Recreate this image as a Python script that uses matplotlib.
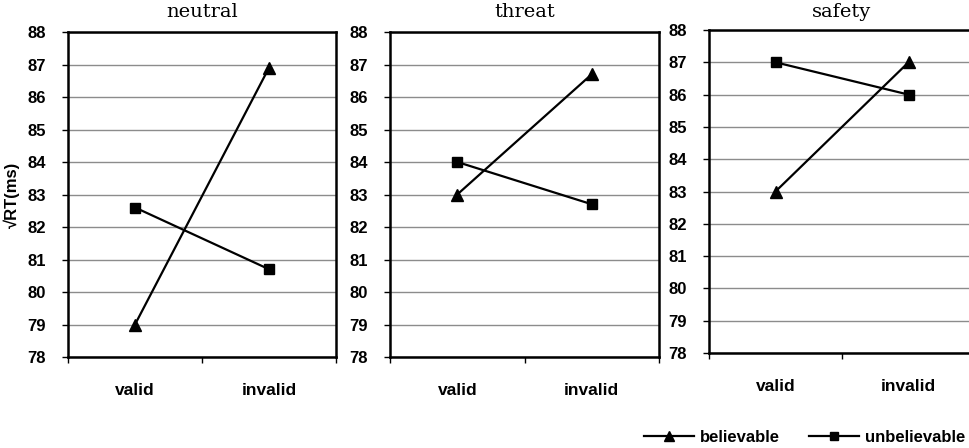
import matplotlib
matplotlib.use("Agg")
import matplotlib.pyplot as plt
from matplotlib.lines import Line2D

conditions = ["neutral", "threat", "safety"]
categories = ["valid", "invalid"]
believable = {"neutral": [79.0, 86.9], "threat": [83.0, 86.7], "safety": [83.0, 87.0]}
unbelievable = {"neutral": [82.6, 80.7], "threat": [84.0, 82.7], "safety": [87.0, 86.0]}
yticks = list(range(78, 89))

W, H = 969, 448
fig = plt.figure(figsize=(W / 100, H / 100), dpi=100)

# axes boxes in pixels: left, top, right, bottom
boxes = [(68, 32, 336, 357), (390, 32, 659, 357), (709, 30, 975, 353)]

sans = ["Liberation Sans", "DejaVu Sans"]
serif = ["DejaVu Serif"]
FS = 12

for cond, (l, t, r, b) in zip(conditions, boxes):
    ax = fig.add_axes([l / W, 1 - b / H, (r - l) / W, (b - t) / H])
    xs = [0.5, 1.5]
    ax.plot(xs, believable[cond], color="black", lw=1.6, marker="^", ms=9,
            markerfacecolor="black", zorder=3, clip_on=False)
    ax.plot(xs, unbelievable[cond], color="black", lw=1.6, marker="s", ms=6.5,
            markerfacecolor="black", zorder=3, clip_on=False)
    ax.set_xlim(0, 2)
    ax.set_ylim(78, 88)
    ax.set_yticks(yticks)
    ax.set_yticklabels([str(v) for v in yticks], fontfamily=sans,
                       fontweight="bold", fontsize=FS)
    ax.tick_params(axis="y", length=4, width=1, pad=12, direction="out")
    ax.set_xticks([0, 1, 2])
    ax.set_xticklabels(["", "", ""])
    ax.set_xticks(xs, minor=True)
    ax.set_xticklabels(categories, minor=True, fontfamily=sans,
                       fontweight="bold", fontsize=12.5)
    ax.tick_params(axis="x", which="major", length=4, width=1, direction="out")
    ax.tick_params(axis="x", which="minor", length=0, pad=19)
    ax.grid(axis="y", color="#8c8c8c", lw=1)
    ax.set_axisbelow(True)
    for s in ax.spines.values():
        s.set_linewidth(1.8)
        s.set_color("black")
    cx = (l + r) / 2 if cond != "safety" else (l + 974) / 2
    fig.text(cx / W, 1 - 12 / H, cond, ha="center", va="center",
             fontfamily=serif, fontsize=14)
    if cond == "neutral":
        ax.set_ylabel("√RT(ms)", fontfamily=sans, fontweight="bold",
                      fontsize=FS, labelpad=0)
        ax.yaxis.set_label_coords(-0.18, 0.5)

handles = [
    Line2D([], [], color="black", lw=1.6, marker="^", ms=7, markerfacecolor="black"),
    Line2D([], [], color="black", lw=1.6, marker="s", ms=6, markerfacecolor="black"),
]
fig.legend(handles, ["believable", "unbelievable"], loc="lower right",
           bbox_to_anchor=(1.012, -0.027), ncol=2, frameon=False,
           prop={"family": sans, "weight": "bold", "size": FS},
           handlelength=3.0, columnspacing=1.7, handletextpad=0.4)

fig.savefig("out.png", dpi=100)
